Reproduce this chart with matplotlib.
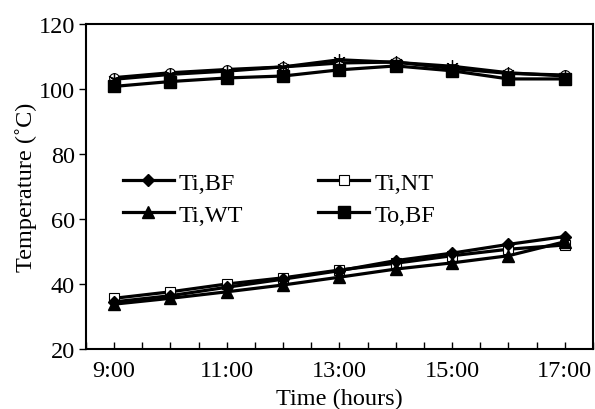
import numpy as np
import matplotlib
matplotlib.use("Agg")
import matplotlib.pyplot as plt

plt.rcParams['font.family'] = 'Liberation Serif'
plt.rcParams['font.serif'] = ['Liberation Serif', 'DejaVu Serif']
plt.rcParams['font.size'] = 17.5

# hours of day
horas = [9, 10, 11, 12, 13, 14, 15, 16, 17]

# inner temperatures
ti_bf = [34.5, 36.4, 39.0, 41.5, 44.1, 47.2, 49.5, 52.2, 54.6]
ti_nt = [35.6, 37.6, 40.0, 41.9, 44.3, 46.4, 48.7, 50.7, 52.0]
ti_wt = [33.8, 35.6, 37.6, 39.7, 42.1, 44.6, 46.5, 48.7, 53.0]

# outer temperatures
to_bf = [100.8, 102.3, 103.4, 104.0, 105.9, 107.1, 105.6, 103.1, 103.1]
to_nt = [103.5, 105.0, 106.0, 106.8, 108.0, 108.3, 106.3, 104.8, 104.3]
to_wt = [103.0, 104.5, 105.5, 106.8, 109.0, 108.2, 107.0, 105.0, 104.0]

rotulos_x = ['9:00', '11:00', '13:00', '15:00', '17:00']

fig = plt.figure(figsize=(5.95, 4.10), dpi=100)
ax = fig.add_axes([86/595, 60/410, 507/595, 325/410])

lw = 2.3
ax.plot(horas, to_nt, color='black', lw=lw, marker='o', ms=7, mfc='white', mec='black', mew=0.8)
ax.plot(horas, to_wt, color='black', lw=lw, marker=(6, 2, 0), ms=9, mec='black', mew=0.9)
l4, = ax.plot(horas, to_bf, color='black', lw=lw, marker='s', ms=8, mfc='black', label='To,BF')
l2, = ax.plot(horas, ti_nt, color='black', lw=lw, marker='s', ms=6.5, mfc='white', mec='black', mew=0.8, label='Ti,NT')
l3, = ax.plot(horas, ti_wt, color='black', lw=lw, marker='^', ms=8, mfc='black', label='Ti,WT')
l1, = ax.plot(horas, ti_bf, color='black', lw=lw, marker='D', ms=6, mfc='black', label='Ti,BF')

ax.set_xlim(8.5, 17.5)
ax.set_ylim(20, 120)
ax.set_yticks(np.arange(20, 121, 20))
ax.set_xticks([9, 11, 13, 15, 17])
ax.set_xticklabels(rotulos_x)
ax.set_xticks(np.arange(8.5, 17.51, 0.5), minor=True)
ax.tick_params(axis='x', which='both', direction='in', length=5, width=1, pad=8)
ax.tick_params(axis='y', direction='out', length=5, width=1, pad=3)
for s in ax.spines.values():
    s.set_linewidth(1.5)

ax.set_ylabel('Temperature (˚C)', labelpad=1)
ax.set_xlabel('Time (hours)', labelpad=5)

ax.legend([l1, l3, l2, l4], ['Ti,BF', 'Ti,WT', 'Ti,NT', 'To,BF'], ncol=2, frameon=False,
          loc='upper left', bbox_to_anchor=(0.053, 0.575), handlelength=2.1,
          handletextpad=0.2, columnspacing=3.1, labelspacing=0.4, borderaxespad=0)

fig.savefig('out.png', dpi=100)
